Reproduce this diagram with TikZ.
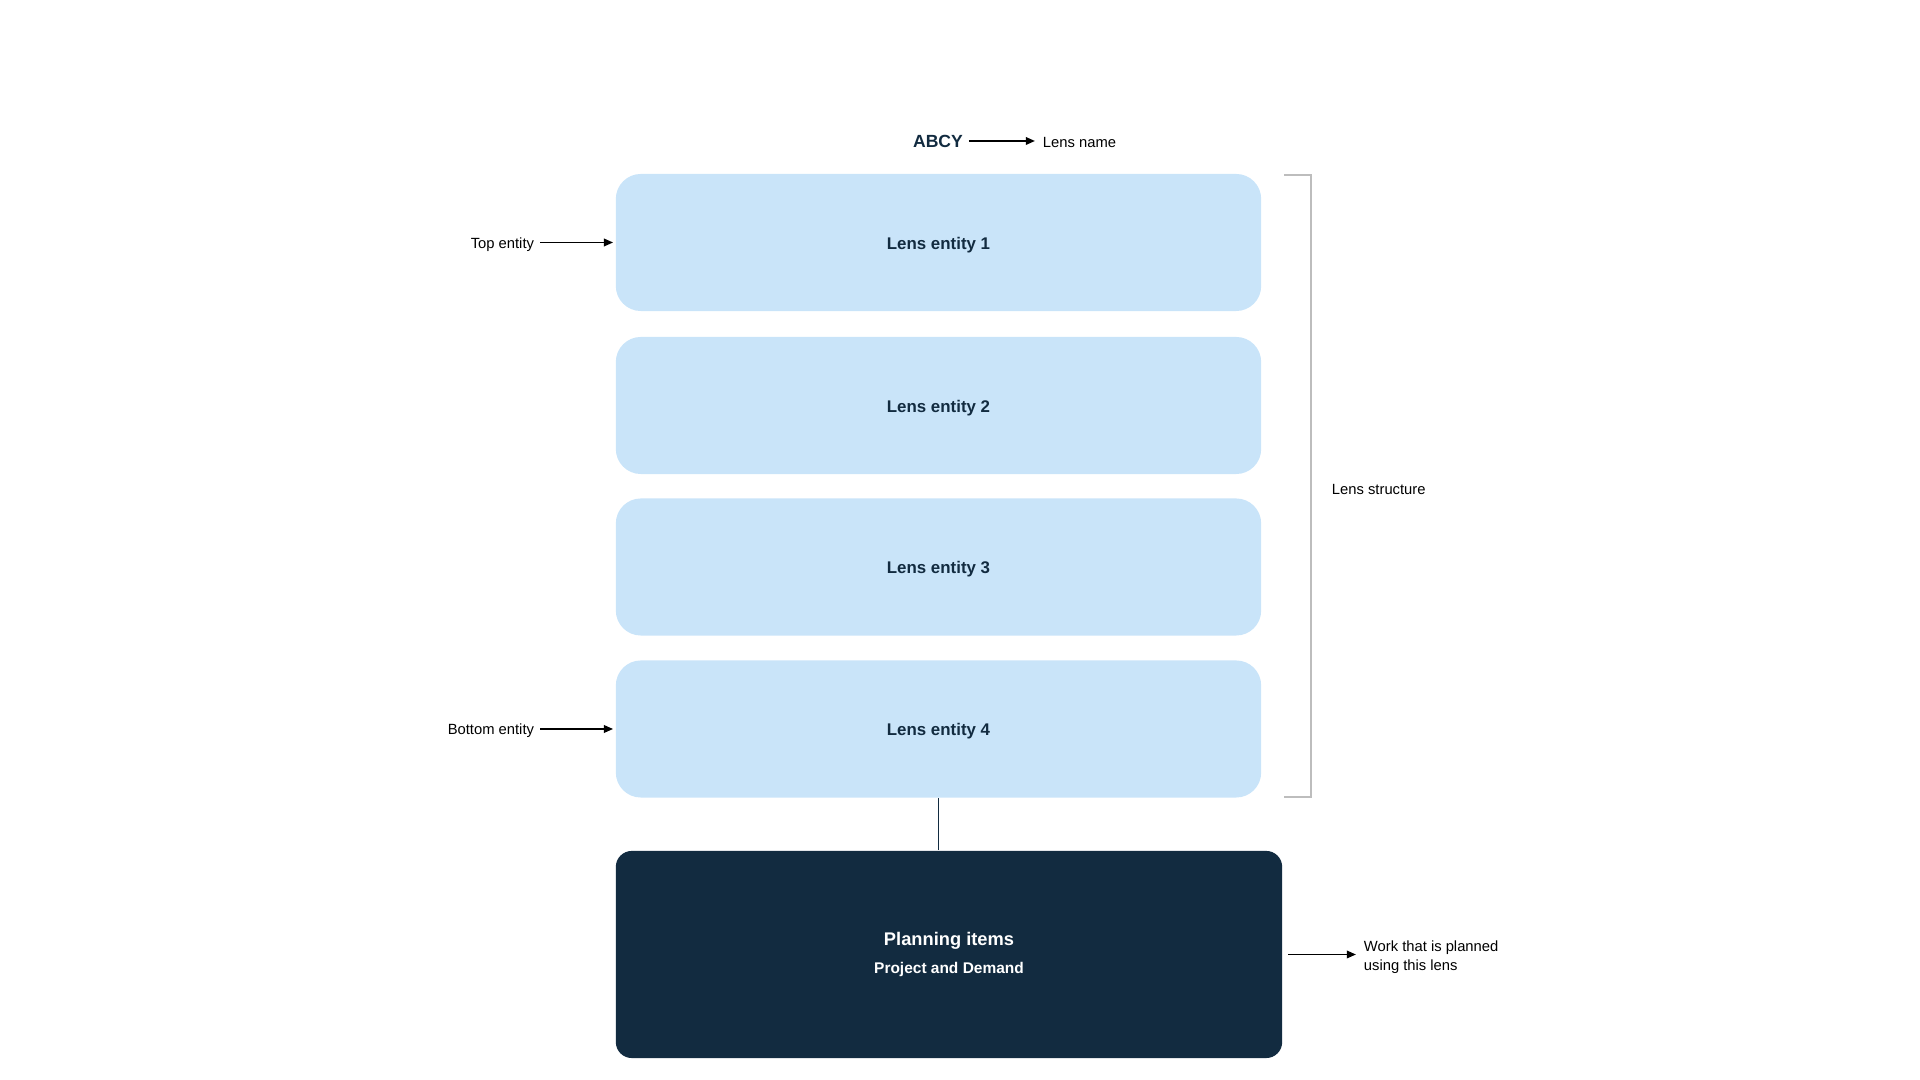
\documentclass[tikz,border=0pt]{standalone}
\usepackage{fontspec}
\setmainfont{Liberation Sans}
\usepackage{xcolor}
\usepackage{tikz}
\usetikzlibrary{positioning,arrows.meta,calc}

\definecolor{lensblue}{HTML}{C9E4F9}
\definecolor{navy}{HTML}{122B40}
\definecolor{bracketgray}{HTML}{BDBDBD}

\begin{document}
\begin{tikzpicture}[x=0.01cm, y=-0.01cm,
  entity/.style={fill=lensblue, rounded corners=0.25cm, minimum width=6.45cm, minimum height=1.37cm,
    text=navy, text height=3.8pt, text depth=0pt, font=\fontsize{4.8}{6}\selectfont\bfseries},
  planbox/.style={fill=navy, rounded corners=0.16cm, minimum width=6.66cm, minimum height=2.07cm,
    text=white, align=center, font=\fontsize{5.2}{7.7}\selectfont\bfseries},
  note/.style={font=\fontsize{4.2}{5.4}\selectfont, inner sep=1.5pt},
  pointer/.style={-{Triangle[length=2.6pt,width=2.2pt]}, line width=0.42pt, black, shorten >=0.6pt}
]

% Frame
\useasboundingbox (0,0) rectangle (1920,1080);

% Lens name
\node[text=navy, font=\fontsize{5}{6}\selectfont\bfseries, inner sep=1.5pt] (abcy) at (938,141) {ABCY};
\node[note, anchor=west] (lensname) at (1037,143) {Lens name};
\draw[pointer] (abcy.east) -- (abcy.east -| lensname.west);

% Lens entities
\node[entity] (e1) at (938.5,242.5) {Lens entity 1};
\node[entity] (e2) at (938.5,405.5) {Lens entity 2};
\node[entity] (e3) at (938.5,567) {Lens entity 3};
\node[entity] (e4) at (938.5,729) {Lens entity 4};

% Left annotations
\node[note, anchor=east] (top) at (540,245) {Top entity};
\draw[pointer] (top.east |- e1) -- (e1.west);
\node[note, anchor=east] (bottom) at (540,731) {Bottom entity};
\draw[pointer] (bottom.east |- e4) -- (e4.west);

% Bracket for lens structure
\draw[bracketgray, line width=0.6pt] (1284,175) -- (1311,175) -- (1311,797) -- (1284,797);
\node[note, anchor=west] (structure) at (1326,490) {Lens structure};

% Planning items
\node[planbox] (plan) at (949,954.5) {Planning items\\
  {\fontsize{4.4}{7.7}\selectfont Project and Demand}};
\draw[navy, line width=0.42pt] (e4.south) -- (e4.south |- plan.north);

% Right annotation
\node[note, anchor=west, align=left] (work) at (1358,957) {Work that is planned\\using this lens};
\draw[pointer] ([xshift=1.5pt]plan.east) -- (plan.east -| work.west);

\end{tikzpicture}
\end{document}
